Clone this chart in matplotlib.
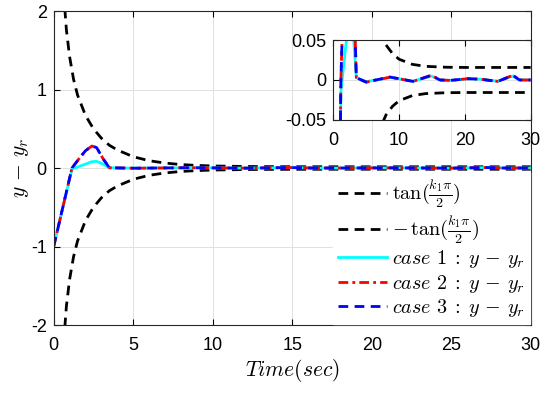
import numpy as np
import matplotlib
matplotlib.use('Agg')
import matplotlib.pyplot as plt

plt.rcParams['font.family'] = 'Liberation Sans'
plt.rcParams['mathtext.fontset'] = 'cm'
plt.rcParams['axes.unicode_minus'] = False

# bound tan(k1*pi/2)
t_bound = [0.7, 0.8, 1.0, 1.25, 1.5, 2.0, 2.5, 3.0, 3.5, 4.0, 5.0, 6.0, 7.0,
           8.0, 9.0, 10.0, 12.0, 14.0, 17.0, 20.0, 30.0]
upper = [2.03, 1.76, 1.42, 1.13, 0.93, 0.67, 0.50, 0.38, 0.29, 0.23, 0.144,
         0.093, 0.063, 0.044, 0.033, 0.026, 0.0196, 0.0171, 0.016, 0.0157, 0.0157]
lower = [-2.03, -1.76, -1.42, -1.13, -0.93, -0.67, -0.50, -0.38, -0.29, -0.23, -0.144,
         -0.093, -0.063, -0.044, -0.033, -0.026, -0.0196, -0.0171, -0.016, -0.0157, -0.0157]

# tracking errors
t_case = [0, 1.15, 1.6, 2.0, 2.4, 2.7, 3.1, 3.5, 4.0, 5.0, 6.5, 8.6, 10.0, 12.1,
          14.1, 14.9, 16.2, 17.8, 20.5, 22.3, 25.0, 27.3, 28.3, 30.0]
case1 = [-1.0, -0.015, 0.02, 0.05, 0.08, 0.085, 0.05, 0.003, 0.001, -0.002, 0.0,
         0.003, 0.0015, -0.0015, 0.003, 0.005, 0.0, -0.0005, 0.0015, 0.001,
         -0.0015, 0.005, 0.0, 0.0]
case2 = [-1.0, 0.0, 0.12, 0.22, 0.28, 0.26, 0.12, 0.003, 0.001, -0.0028, 0.0,
         0.0035, 0.0015, -0.0018, 0.0035, 0.006, 0.0, -0.0005, 0.0016, 0.001,
         -0.0018, 0.006, 0.0, 0.0]
case3 = [-1.0, 0.0, 0.12, 0.22, 0.28, 0.26, 0.12, 0.003, 0.001, -0.0026, 0.0,
         0.0037, 0.0016, -0.0018, 0.0037, 0.0058, 0.0, -0.0005, 0.0016, 0.001,
         -0.0018, 0.0058, 0.0, 0.0]

fig = plt.figure(figsize=(5.5, 3.93), dpi=100)
ax = fig.add_axes([0.0976, 0.173, 0.8673, 0.799])

dash = (3.5, 2.3)


def draw(a):
    a.plot(t_bound, upper, '--', color='black', lw=2, dashes=dash,
           label=r'$\tan(\frac{k_1\pi}{2})$')
    a.plot(t_bound, lower, '--', color='black', lw=2, dashes=dash,
           label=r'$-\,\tan(\frac{k_1\pi}{2})$')
    a.plot(t_case, case1, '-', color='cyan', lw=2, label=r'$case\ 1\;:\;y\,-\,y_r$')
    a.plot(t_case, case2, '-.', color='red', lw=2, dashes=(3.5, 1.5, 1, 1.5),
           label=r'$case\ 2\;:\;y\,-\,y_r$')
    a.plot(t_case, case3, '--', color='blue', lw=2, dashes=dash,
           label=r'$case\ 3\;:\;y\,-\,y_r$')
    a.grid(True, color='#e0e0e0', lw=0.7)
    a.tick_params(direction='in', top=True, right=True, labelsize=13, length=4)
    a.tick_params(axis='x', pad=8.5)
    a.tick_params(axis='y', pad=5)
    for s in a.spines.values():
        s.set_linewidth(0.8)
        s.set_color('#262626')


draw(ax)
ax.set_xlim(0, 30)
ax.set_ylim(-2, 2)
ax.set_xticks([0, 5, 10, 15, 20, 25, 30])
ax.set_yticks([-2, -1, 0, 1, 2])
ax.set_xlabel(r'$Time(sec)$', fontsize=15.5, labelpad=2)
ax.set_ylabel(r'$y\,-\,y_r$', fontsize=15.5, labelpad=0)
leg = ax.legend(loc='lower right', fontsize=14.5, frameon=True, fancybox=False,
                edgecolor='white', handlelength=2.4, handletextpad=0.25,
                labelspacing=0.12, borderaxespad=0.05, borderpad=0.25)
leg.get_frame().set_alpha(1)

ins = fig.add_axes([0.6060, 0.695, 0.3589, 0.203])
draw(ins)
ins.set_xlim(0, 30)
ins.set_ylim(-0.05, 0.05)
ins.set_xticks([0, 10, 20, 30])
ins.set_yticks([-0.05, 0, 0.05])
ins.set_yticklabels(['-0.05', '0', '0.05'])

fig.savefig('out.png', dpi=100)
